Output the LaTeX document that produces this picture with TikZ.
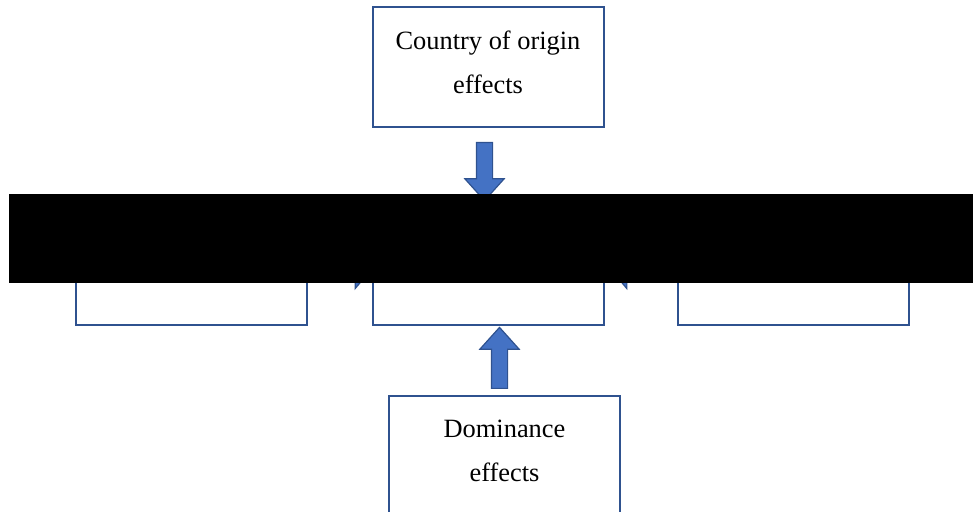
\documentclass[tikz,border=0pt]{standalone}
\usepackage{fontspec}
\setmainfont{Liberation Serif}
\usetikzlibrary{positioning,shapes.arrows}
\definecolor{cLine}{HTML}{2F528F}
\definecolor{cFill}{HTML}{4472C4}
\tikzset{
  effbox/.style={draw=cLine, line width=1pt, fill=white, align=center,
    minimum width=115.5pt, minimum height=60pt, inner sep=0pt, text depth=5pt,
    font=\fontsize{13.2}{22}\selectfont},
  blockarrow/.style={single arrow, draw=cLine, line width=0.6pt, fill=cFill,
    inner sep=3.75pt, single arrow head extend=5.75pt, single arrow tip angle=84,
    minimum height=29pt, anchor=tail},
  sidearrow/.style={blockarrow, single arrow tip angle=100},
}

\begin{document}
\begin{tikzpicture}[x=0.5pt, y=-0.5pt]
    \useasboundingbox (0,0) rectangle (973,512);
    % boxes
    \node[effbox] (origin) at (488,67) {Country of origin\\effects};
    \node[effbox] (left) at (191,265) {};
    \node[effbox] (core) at (488.5,265) {};
    \node[effbox] (right) at (793,265) {};
    \node[effbox] (dominance) at (504.5,456) {Dominance\\effects};
    % block arrows into the central box
    \node[blockarrow, shape border rotate=270] (aorigin) at (484.5,142) {};
    \node[blockarrow, shape border rotate=90, minimum height=30.5pt] (adominance) at (499.5,389) {};
    \node[sidearrow, shape border rotate=0] (aleft) at (313,269) {};
    \node[sidearrow, shape border rotate=180] (aright) at (669,269) {};
    % masked band
    \fill[black] (9,194) rectangle (973,283);
  \end{tikzpicture}
\end{document}
